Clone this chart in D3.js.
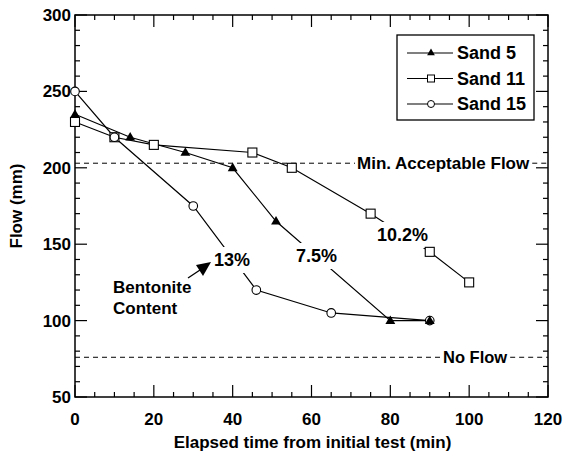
<!DOCTYPE html>
<html>
<head>
<meta charset="utf-8">
<script src="https://cdn.jsdelivr.net/npm/d3@7"></script>
<style>
  html, body { margin: 0; padding: 0; background: #fff; }
  svg { display: block; }
  text { font-family: "Liberation Sans", Arial, sans-serif; fill: #000; }
</style>
</head>
<body>
<svg id="chart" width="564" height="464"></svg>
<script>
// Flow measurements (mm) against elapsed time (min) for three sands
const sand5Time   = [0, 14, 28, 40, 51, 80, 90];
const sand5Flow   = [235, 220, 210, 200, 165, 100, 100];
const sand11Time  = [0, 10, 20, 45, 55, 75, 90, 100];
const sand11Flow  = [230, 220, 215, 210, 200, 170, 145, 125];
const sand15Time  = [0, 10, 30, 46, 65, 90];
const sand15Flow  = [250, 220, 175, 120, 105, 100];

const seriesNames = ["Sand 5", "Sand 11", "Sand 15"];
const xTickLabels = [0, 20, 40, 60, 80, 100, 120];
const yTickLabels = [50, 100, 150, 200, 250, 300];

const minAcceptableFlow = 203;
const noFlow = 76;

const svg = d3.select("#chart");
const margin = { left: 75, right: 16, top: 15, bottom: 67 };
const W = 564, H = 464;

const x = d3.scaleLinear().domain([0, 120]).range([margin.left, W - margin.right]);
const y = d3.scaleLinear().domain([50, 300]).range([H - margin.bottom, margin.top]);

const x0 = x(0), x1 = x(120), y0 = y(50), y1 = y(300);

// Tick marks pointing inward on all four sides
const tickG = svg.append("g").attr("stroke", "#000").attr("stroke-width", 1.2);
d3.range(0, 121, 5).forEach(t => {
  const len = t % 20 === 0 ? 12 : 5;
  tickG.append("line").attr("x1", x(t)).attr("x2", x(t)).attr("y1", y0).attr("y2", y0 - len);
  tickG.append("line").attr("x1", x(t)).attr("x2", x(t)).attr("y1", y1).attr("y2", y1 + len);
});
d3.range(50, 301, 10).forEach(v => {
  const len = v % 50 === 0 ? 12 : 5;
  tickG.append("line").attr("x1", x0).attr("x2", x0 + len).attr("y1", y(v)).attr("y2", y(v));
  tickG.append("line").attr("x1", x1).attr("x2", x1 - len).attr("y1", y(v)).attr("y2", y(v));
});

// Frame
svg.append("rect")
  .attr("x", x0).attr("y", y1).attr("width", x1 - x0).attr("height", y0 - y1)
  .attr("fill", "none").attr("stroke", "#000").attr("stroke-width", 1.5);

// Tick labels
svg.append("g").selectAll("text").data(xTickLabels).join("text")
  .attr("x", d => x(d)).attr("y", y0 + 28)
  .attr("text-anchor", "middle")
  .attr("font-size", 17).attr("font-weight", "bold")
  .text(d => d);

svg.append("g").selectAll("text").data(yTickLabels).join("text")
  .attr("x", x0 - 4).attr("y", d => y(d)).attr("dy", "0.35em")
  .attr("text-anchor", "end")
  .attr("font-size", 17).attr("font-weight", "bold")
  .text(d => d);

// Axis titles
svg.append("text")
  .attr("x", (x0 + x1) / 2 + 1).attr("y", 448)
  .attr("text-anchor", "middle")
  .attr("font-size", 17).attr("font-weight", "bold")
  .text("Elapsed time from initial test (min)");

svg.append("text")
  .attr("transform", `translate(22, ${(y0 + y1) / 2}) rotate(-90)`)
  .attr("text-anchor", "middle")
  .attr("font-size", 17).attr("font-weight", "bold")
  .text("Flow (mm)");

// Reference lines with inline labels
function refLine(value, label, labelX, size) {
  const g = svg.append("g");
  const t = g.append("text")
    .attr("x", labelX).attr("y", y(value)).attr("dy", "0.35em")
    .attr("font-size", size).attr("font-weight", "bold")
    .text(label);
  const w = t.node().getComputedTextLength();
  g.insert("line", "text")
    .attr("x1", x0).attr("x2", labelX - 2).attr("y1", y(value)).attr("y2", y(value))
    .attr("stroke", "#000").attr("stroke-width", 1).attr("stroke-dasharray", "5,4");
  g.insert("line", "text")
    .attr("x1", labelX + w + 3).attr("x2", x1).attr("y1", y(value)).attr("y2", y(value))
    .attr("stroke", "#000").attr("stroke-width", 1).attr("stroke-dasharray", "5,4");
}
refLine(minAcceptableFlow, "Min. Acceptable Flow", 357, 17);
refLine(noFlow, "No Flow", 443, 16.5);

// Series
const series = [
  { name: seriesNames[0], t: sand5Time,  v: sand5Flow,  marker: "triangle" },
  { name: seriesNames[1], t: sand11Time, v: sand11Flow, marker: "square" },
  { name: seriesNames[2], t: sand15Time, v: sand15Flow, marker: "circle" }
];

const line = d3.line().x(d => x(d[0])).y(d => y(d[1]));

series.forEach(s => {
  const pts = s.t.map((t, i) => [t, s.v[i]]);
  svg.append("path")
    .attr("d", line(pts))
    .attr("fill", "none").attr("stroke", "#000").attr("stroke-width", 1.2);
});

// Percentage labels sit on the lines with a white backing
function boxedLabel(text, lx, ly, size) {
  const g = svg.append("g");
  const t = g.append("text")
    .attr("x", lx).attr("y", ly)
    .attr("font-size", size).attr("font-weight", "bold")
    .text(text);
  const bb = t.node().getBBox();
  g.insert("rect", "text")
    .attr("x", bb.x - 3).attr("y", bb.y - 3)
    .attr("width", bb.width + 6).attr("height", bb.height + 6)
    .attr("fill", "#fff");
}
boxedLabel("13%", 214, 266, 18);
boxedLabel("7.5%", 296, 262, 18);
boxedLabel("10.2%", 377, 241, 18);

function drawMarker(g, type, cx, cy) {
  if (type === "triangle") {
    g.append("path")
      .attr("d", d3.symbol(d3.symbolTriangle, 42)())
      .attr("transform", `translate(${cx},${cy + 0.5})`)
      .attr("fill", "#000");
  } else if (type === "square") {
    g.append("rect")
      .attr("x", cx - 4.5).attr("y", cy - 4.5).attr("width", 9).attr("height", 9)
      .attr("fill", "#fff").attr("stroke", "#000").attr("stroke-width", 1.1);
  } else {
    g.append("circle")
      .attr("cx", cx).attr("cy", cy).attr("r", 4.3)
      .attr("fill", "#fff").attr("stroke", "#000").attr("stroke-width", 1.1);
  }
}

// Markers (circles first so that the shared end point stays dark)
[series[1], series[2], series[0]].forEach(s => {
  const g = svg.append("g");
  s.t.forEach((t, i) => drawMarker(g, s.marker, x(t), y(s.v[i])));
});

// Annotation
svg.append("text")
  .attr("x", 113).attr("y", 293)
  .attr("font-size", 17).attr("font-weight", "bold")
  .text("Bentonite");
svg.append("text")
  .attr("x", 113).attr("y", 314)
  .attr("font-size", 17).attr("font-weight", "bold")
  .text("Content");

svg.append("line")
  .attr("x1", 188).attr("y1", 278).attr("x2", 200).attr("y2", 270)
  .attr("stroke", "#000").attr("stroke-width", 1.3);
svg.append("path")
  .attr("d", "M211,262 L196,265 L203,276 Z")
  .attr("fill", "#000");

// Legend
const lg = svg.append("g");
lg.append("rect")
  .attr("x", 397).attr("y", 35).attr("width", 137).attr("height", 85)
  .attr("fill", "#fff").attr("stroke", "#000").attr("stroke-width", 1.3);
series.forEach((s, i) => {
  const ly = 53 + i * 25.5;
  lg.append("line")
    .attr("x1", 407).attr("x2", 453).attr("y1", ly).attr("y2", ly)
    .attr("stroke", "#000").attr("stroke-width", 1.1);
  if (s.marker === "triangle") {
    lg.append("path")
      .attr("d", d3.symbol(d3.symbolTriangle, 26)())
      .attr("transform", `translate(431,${ly})`).attr("fill", "#000");
  } else if (s.marker === "square") {
    lg.append("rect").attr("x", 427.5).attr("y", ly - 3.5).attr("width", 7).attr("height", 7)
      .attr("fill", "#fff").attr("stroke", "#000").attr("stroke-width", 1);
  } else {
    lg.append("circle").attr("cx", 431).attr("cy", ly).attr("r", 3.5)
      .attr("fill", "#fff").attr("stroke", "#000").attr("stroke-width", 1);
  }
  lg.append("text")
    .attr("x", 457).attr("y", ly).attr("dy", "0.36em")
    .attr("font-size", 18).attr("font-weight", "bold")
    .text(s.name);
});
</script>
</body>
</html>
